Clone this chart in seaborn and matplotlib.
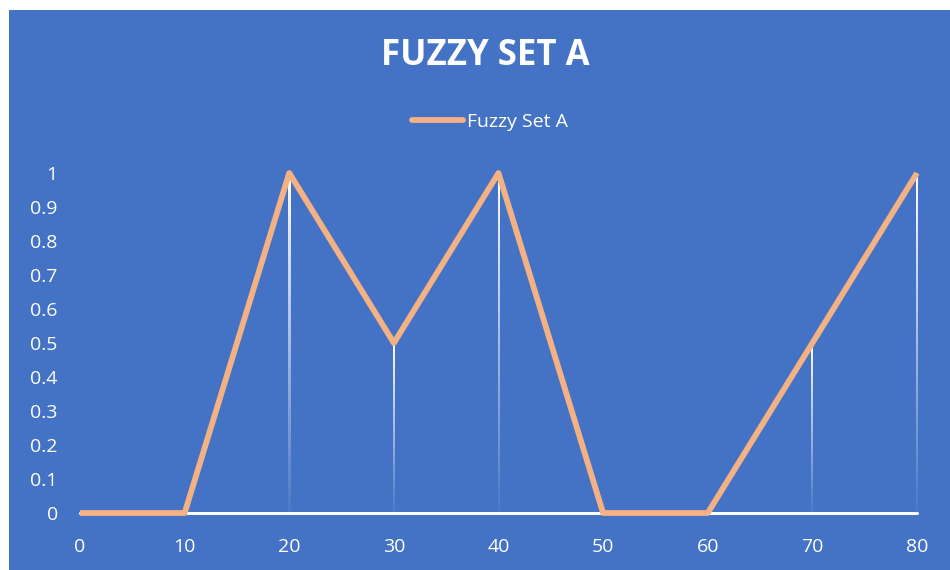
import numpy as np
import pandas as pd
import matplotlib.pyplot as plt
import seaborn as sns
from matplotlib.patches import Rectangle

# values
x_vals = [0, 10, 20, 30, 40, 50, 60, 70, 80]
membership = [0, 0, 1, 0.5, 1, 0, 0, 0.5, 1]
y_ticks = [0, 0.1, 0.2, 0.3, 0.4, 0.5, 0.6, 0.7, 0.8, 0.9, 1]
y_labels = ['0', '0.1', '0.2', '0.3', '0.4', '0.5', '0.6', '0.7', '0.8', '0.9', '1']

df = pd.DataFrame({'x': x_vals, 'Fuzzy Set A': membership})

BLUE = '#4472C4'
ORANGE = '#F4B183'

sns.set_style('white')
plt.rcParams['font.family'] = ['Open Sans', 'DejaVu Sans']

fig = plt.figure(figsize=(9.5, 5.7), dpi=100)
fig.patch.set_facecolor('white')
fig.patches.append(Rectangle((9 / 950, 0), 1 - 9 / 950, 1 - 10 / 570,
                             transform=fig.transFigure, facecolor=BLUE,
                             edgecolor='none', zorder=-5))

ax = fig.add_axes([80 / 950, 1 - 513 / 570, 837 / 950, 340 / 570])
ax.set_facecolor('none')

# gradient drop lines (white at the point, fading toward zero)
grad = np.zeros((200, 1, 4))
grad[..., :3] = 1.0
grad[:, 0, 3] = np.linspace(1.0, 0.05, 200)
half_w = 80 / 837  # ~1px each side in data units
for xv, yv in zip(x_vals, membership):
    if yv <= 0:
        continue
    ax.imshow(grad, extent=(xv - half_w, xv + half_w, 0, yv), aspect='auto',
              interpolation='bilinear', zorder=2, clip_on=False)

ax.axhline(0, color='white', lw=2.2, zorder=1, clip_on=False)

sns.lineplot(data=df, x='x', y='Fuzzy Set A', ax=ax, color=ORANGE, lw=4.2,
             label='Fuzzy Set A', zorder=3, clip_on=False,
             solid_capstyle='butt')

ax.set_xlim(0, 80)
ax.set_ylim(0, 1)
ax.set_xticks(x_vals)
ax.set_yticks(y_ticks)
ax.set_yticklabels(y_labels)
ax.tick_params(axis='both', length=0, colors='white', labelsize=14)
ax.tick_params(axis='x', pad=18)
ax.tick_params(axis='y', pad=16)
ax.set_xlabel('')
ax.set_ylabel('')
for s in ax.spines.values():
    s.set_visible(False)

leg = ax.legend(loc='center', bbox_to_anchor=(490 / 950, 1 - 122 / 570),
                bbox_transform=fig.transFigure, frameon=False, fontsize=14,
                handlelength=2.6, handletextpad=0.2)
for t in leg.get_texts():
    t.set_color('white')
for h in leg.get_lines():
    h.set_solid_capstyle('round')

fig.text(485 / 950, 1 - 56 / 570, 'FUZZY SET A', color='white',
         fontsize=25, fontweight='bold', ha='center', va='center')

fig.savefig('out.png', dpi=100)
